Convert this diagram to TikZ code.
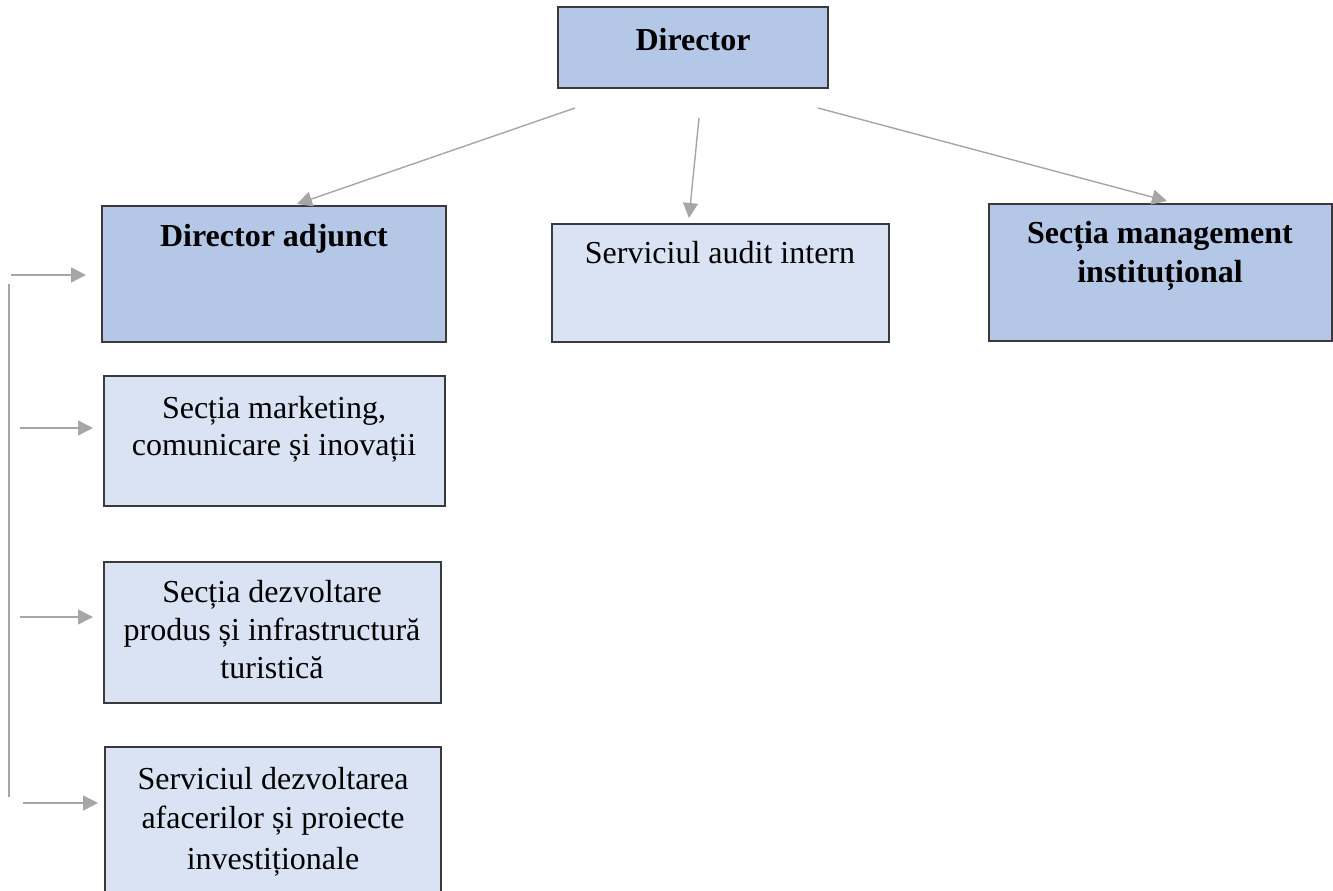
\documentclass[tikz,border=0pt]{standalone}
\usepackage{fontspec}
\setmainfont{Liberation Serif}
\usetikzlibrary{arrows.meta}
\definecolor{darkfill}{HTML}{B4C7E7}
\definecolor{lightfill}{HTML}{DAE3F3}
\definecolor{boxline}{HTML}{3A3A3A}
\definecolor{arrowgray}{HTML}{A6A6A6}
\tikzset{
  boxd/.style={draw=boxline, line width=1.5pt, fill=darkfill},
  boxl/.style={draw=boxline, line width=1.5pt, fill=lightfill},
  txt/.style={anchor=base, inner sep=0pt, font=\fontsize{32}{38}\selectfont},
  btxt/.style={txt, font=\fontsize{32}{38}\selectfont\bfseries},
  conn/.style={draw=arrowgray, line width=1.4pt, -{Triangle[length=15pt,width=15pt]}},
  plain/.style={draw=arrowgray, line width=1.4pt}
}
\begin{document}
\begin{tikzpicture}[x=1pt,y=-1pt]
\useasboundingbox (0,0) rectangle (1333,891);
\clip (0,0) rectangle (1333,891);
% boxes
\draw[boxd] (558,7) rectangle (828,88);
\draw[boxd] (102,206) rectangle (446,342);
\draw[boxl] (552,224) rectangle (889,342);
\draw[boxd] (989,204) rectangle (1332,341);
\draw[boxl] (104,376) rectangle (445,506);
\draw[boxl] (104,562) rectangle (441,703);
\draw[boxl] (105,747) rectangle (441,895);
% texts
\node[btxt] (tdir) at (693,51) {Director};
\node[btxt] (tadj) at (274,246) {Director adjunct};
\node[txt] (taud) at (720,263) {Serviciul audit intern};
\node[btxt] (tman1) at (1160,243) {Secția management};
\node[btxt] (tman2) at (1160,282) {instituțional};
\node[txt] (tmk1) at (274,418) {Secția marketing,};
\node[txt] (tmk2) at (274,455) {comunicare și inovații};
\node[txt] (tdz1) at (272,602) {Secția dezvoltare};
\node[txt] (tdz2) at (272,640) {produs și infrastructură};
\node[txt] (tdz3) at (272,678) {turistică};
\node[txt] (tsv1) at (273,789) {Serviciul dezvoltarea};
\node[txt] (tsv2) at (273,828) {afacerilor și proiecte};
\node[txt] (tsv3) at (273,869) {investiționale};
% connector endpoints
\coordinate (a1s) at (575,108);
\coordinate (a1e) at (297,204);
\coordinate (a2s) at (699,118);
\coordinate (a2e) at (689,218);
\coordinate (a3s) at (818,108);
\coordinate (a3e) at (1167,201);
\coordinate (vt) at (9,284);
\coordinate (vb) at (9,797);
\coordinate (h1s) at (11,275);
\coordinate (h1e) at (86,275);
\coordinate (h2s) at (20,428);
\coordinate (h2e) at (93,428);
\coordinate (h3s) at (20,617);
\coordinate (h3e) at (93,617);
\coordinate (h4s) at (23,803);
\coordinate (h4e) at (98,803);
\draw[conn] (a1s) -- (a1e);
\draw[conn] (a2s) -- (a2e);
\draw[conn] (a3s) -- (a3e);
\draw[plain] (vt) -- (vb);
\draw[conn] (h1s) -- (h1e);
\draw[conn] (h2s) -- (h2e);
\draw[conn] (h3s) -- (h3e);
\draw[conn] (h4s) -- (h4e);
\end{tikzpicture}
\end{document}
